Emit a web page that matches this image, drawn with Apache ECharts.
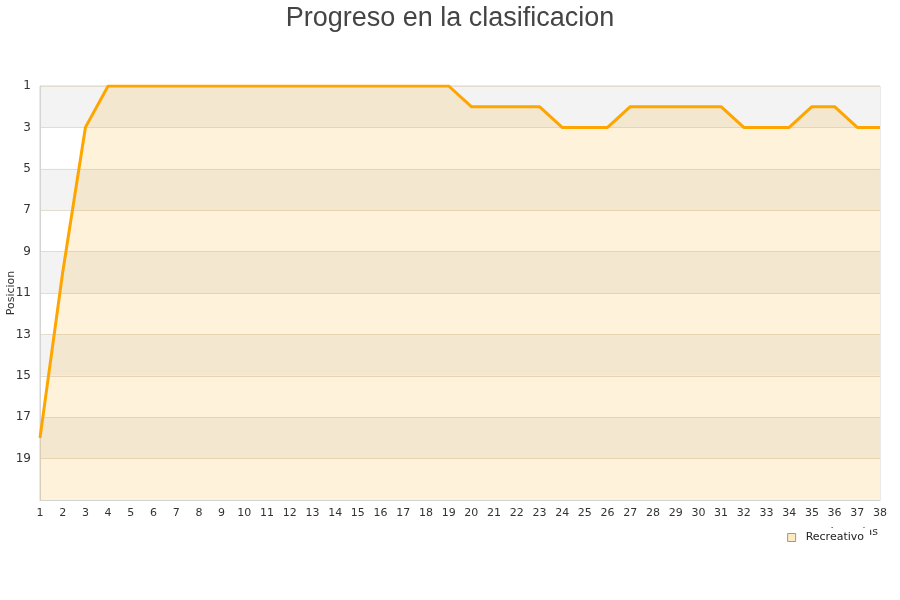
<!DOCTYPE html>
<html><head><meta charset="utf-8">
<script src="https://cdn.jsdelivr.net/npm/echarts@6/dist/echarts.min.js"></script>
<style>html,body{margin:0;padding:0;background:#fff}#c{width:900px;height:600px}</style>
</head><body><div id="c"></div>
<script>
var jornadas = [];
for (var i = 1; i <= 38; i++) jornadas.push(String(i));
var posiciones = [18,10,3,1,1,1,1,1,1,1,1,1,1,1,1,1,1,1,1,2,2,2,2,3,3,3,2,2,2,2,2,3,3,3,2,2,3,3];
var equipo = 'Recreativo';
var titulo = 'Progreso en la clasificacion';

var chart = echarts.init(document.getElementById('c'));
chart.setOption({
  animation: false,
  title: {text: titulo, left: 'center', top: 0,
    textStyle: {fontFamily: 'Liberation Sans, Arial', fontSize: 27, fontWeight: 'normal', color: '#444'}},
  grid: {left: 40, right: 20, top: 86, bottom: 100, outerBoundsMode: 'none', containLabel: false,
    show: true, borderColor: '#d4d4d4', borderWidth: 1, backgroundColor: 'transparent'},
  legend: {data: [{name: equipo, icon: 'rect', itemStyle: {color: '#fde9c4', borderColor: '#999', borderWidth: 1}}],
    right: 30, top: 528, itemWidth: 8, itemHeight: 8, itemGap: 8, backgroundColor: '#fff', padding: [4, 6, 4, 4],
    textStyle: {fontFamily: 'DejaVu Sans', fontSize: 11, color: '#222', padding: [0, 0, 0, 5]}},
  xAxis: {type: 'category', data: jornadas, boundaryGap: false,
    name: 'Jornadas', nameLocation: 'end', nameGap: 0, nameMoveOverlap: false,
    nameTextStyle: {fontFamily: 'DejaVu Sans', fontSize: 11, color: '#333', align: 'right', verticalAlign: 'top', padding: [27, 2, 0, 0]},
    axisLine: {show: true, lineStyle: {color: '#d4d4d4'}},
    axisTick: {show: false},
    axisLabel: {fontFamily: 'DejaVu Sans', fontSize: 11, color: '#333', margin: 8, interval: 0},
    splitLine: {show: false}},
  yAxis: {type: 'value', inverse: true, min: 1, max: 21, interval: 2,
    name: 'Posicion', nameLocation: 'middle', nameGap: 23, nameMoveOverlap: false,
    nameTextStyle: {fontFamily: 'DejaVu Sans', fontSize: 11, color: '#333'},
    axisLine: {show: true, lineStyle: {color: '#d4d4d4'}},
    axisTick: {show: false},
    axisLabel: {fontFamily: 'DejaVu Sans', fontSize: 12, color: '#333', margin: 9, showMaxLabel: false},
    splitLine: {show: true, lineStyle: {color: '#e3dccf'}},
    splitArea: {show: true, areaStyle: {color: ['#f3f3f3', '#ffffff']}}},
  series: [{name: equipo, type: 'line', data: posiciones, showSymbol: false, symbol: 'none',
    lineStyle: {color: '#ffa500', width: 3},
    itemStyle: {color: '#ffa500'},
    areaStyle: {color: 'rgba(255,165,0,0.2)', origin: 'end'}}]
});
</script></body></html>
